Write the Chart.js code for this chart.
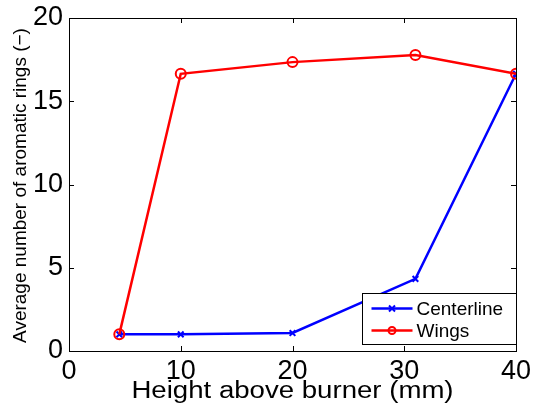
<!DOCTYPE html>
<html>
<head>
<meta charset="utf-8">
<script src="https://cdn.jsdelivr.net/npm/chart.js@4"></script>
<style>
  html, body { margin: 0; padding: 0; background: #fff; }
  #wrap { width: 533px; height: 414px; }
</style>
</head>
<body>
<div id="wrap"><canvas id="chart1" width="533" height="414"></canvas></div>
<script>
// values
const heights = [4.5, 10, 20, 31, 40]
const centerline = [1.0, 1.0, 1.08, 4.33, 16.65]
const wings = [1.0, 16.65, 17.35, 17.78, 16.65]
const xTicks = [0, 10, 20, 30, 40]
const yTicks = [0, 5, 10, 15, 20]
const xTitle = 'Height above burner (mm)'
const yTitle = 'Average number of aromatic rings (\u2212)'

const font = "Arial, 'Liberation Sans', Helvetica, sans-serif"

function toPoints(xs, ys) {
    return xs.map((x, i) => ({ x: x, y: ys[i] }))
}

// box + inward ticks on all four sides, like matlab, plus titles and legend
const boxPlugin = {
    id: 'box',
    afterDraw(chart) {
        const ctx = chart.ctx
        const a = chart.chartArea
        const xs = chart.scales.x
        const ys = chart.scales.y
        ctx.save()
        ctx.strokeStyle = '#000'
        ctx.lineWidth = 1
        ctx.strokeRect(Math.round(a.left) + 0.5, Math.round(a.top) + 0.5, Math.round(a.right - a.left), Math.round(a.bottom - a.top))
        ctx.beginPath()
        xTicks.forEach(v => {
            const px = Math.round(xs.getPixelForValue(v)) + 0.5
            ctx.moveTo(px, a.bottom); ctx.lineTo(px, a.bottom - 5)
            ctx.moveTo(px, a.top); ctx.lineTo(px, a.top + 5)
        })
        yTicks.forEach(v => {
            const py = Math.round(ys.getPixelForValue(v)) + 0.5
            ctx.moveTo(a.left, py); ctx.lineTo(a.left + 5, py)
            ctx.moveTo(a.right, py); ctx.lineTo(a.right - 5, py)
        })
        ctx.stroke()

        // axis titles (x title is a bit wide in the original)
        ctx.fillStyle = '#000'
        ctx.textAlign = 'center'
        ctx.textBaseline = 'alphabetic'
        ctx.save()
        ctx.translate((a.left + a.right) / 2, 398)
        ctx.scale(1.2, 1)
        ctx.font = '23px ' + font
        ctx.fillText(xTitle, 0, 0)
        ctx.restore()

        ctx.save()
        ctx.translate(26, (a.top + a.bottom) / 2 + 1)
        ctx.rotate(-Math.PI / 2)
        ctx.font = '19px ' + font
        ctx.fillText(yTitle, 0, 0)
        ctx.restore()

        // legend box in the lower right corner
        const lw = 154, lh = 51
        const lx = Math.round(a.right) - lw + 0.5
        const ly = Math.round(a.bottom) - 7 - lh + 0.5
        ctx.fillStyle = '#fff'
        ctx.fillRect(lx, ly, lw, lh)
        ctx.strokeRect(lx, ly, lw, lh)
        chart.data.datasets.forEach((ds, i) => {
            const y = ly + 15 + i * 22
            ctx.strokeStyle = ds.borderColor
            ctx.lineWidth = 2.5
            ctx.beginPath()
            ctx.moveTo(lx + 9, y); ctx.lineTo(lx + 50, y)
            ctx.stroke()
            ctx.lineWidth = 2
            const cx = lx + 29.5
            if (ds.pointStyle === 'circle') {
                ctx.beginPath(); ctx.arc(cx, y, 3.5, 0, Math.PI * 2); ctx.stroke()
            } else {
                ctx.beginPath()
                ctx.moveTo(cx - 3, y - 3); ctx.lineTo(cx + 3, y + 3)
                ctx.moveTo(cx - 3, y + 3); ctx.lineTo(cx + 3, y - 3)
                ctx.stroke()
            }
            ctx.fillStyle = '#000'
            ctx.font = '19px ' + font
            ctx.textBaseline = 'middle'
            ctx.textAlign = 'left'
            ctx.fillText(ds.label, lx + 54, y + 1)
        })
        ctx.restore()
    }
}

const ctx = document.querySelector('#chart1').getContext('2d')
const chart1 = new Chart(ctx, {
    type: 'scatter',
    data: {
        datasets: [{
            label: 'Centerline',
            data: toPoints(heights, centerline),
            showLine: true,
            borderColor: '#0000ff',
            backgroundColor: '#0000ff',
            borderWidth: 2.5,
            pointStyle: 'crossRot',
            pointRadius: 4,
            pointBorderWidth: 2,
            order: 2
        }, {
            label: 'Wings',
            data: toPoints(heights, wings),
            showLine: true,
            borderColor: '#ff0000',
            backgroundColor: 'rgba(0,0,0,0)',
            borderWidth: 2.5,
            pointStyle: 'circle',
            pointRadius: 5,
            pointBorderWidth: 2,
            order: 1
        }]
    },
    options: {
        responsive: false,
        animation: false,
        layout: {
            padding: { top: 18, right: 17, left: 0, bottom: 0 }
        },
        scales: {
            x: {
                type: 'linear',
                min: 0,
                max: 40,
                afterFit: s => {
                    s.height = 63
                    s.paddingLeft = 0
                    s.paddingRight = 0
                },
                afterBuildTicks: s => { s.ticks = xTicks.map(v => ({ value: v })) },
                grid: { display: false, drawTicks: false },
                border: { display: false },
                ticks: {
                    color: '#000',
                    padding: 4,
                    maxRotation: 0,
                    font: { family: font, size: 27 }
                }
            },
            y: {
                type: 'linear',
                min: 0,
                max: 20,
                afterFit: s => {
                    s.width = 69
                    s.paddingTop = 0
                    s.paddingBottom = 0
                },
                afterBuildTicks: s => { s.ticks = yTicks.map(v => ({ value: v })) },
                grid: { display: false, drawTicks: false },
                border: { display: false },
                ticks: {
                    color: '#000',
                    padding: 6,
                    font: { family: font, size: 27 }
                }
            }
        },
        plugins: {
            legend: { display: false },
            tooltip: { enabled: false }
        }
    },
    plugins: [boxPlugin]
})
</script>
</body>
</html>
